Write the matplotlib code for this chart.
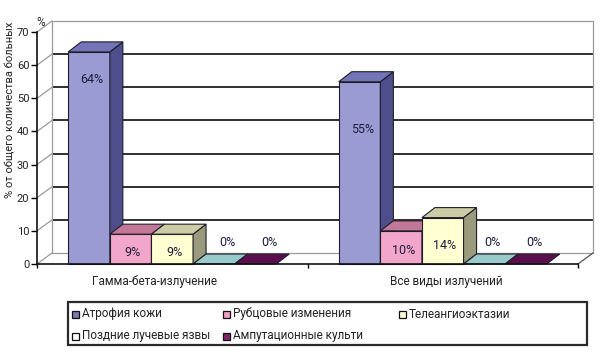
import matplotlib
matplotlib.use("Agg")
import matplotlib.pyplot as plt
from matplotlib.patches import Polygon, Rectangle

plt.rcParams["font.family"] = ["Roboto", "DejaVu Sans"]

# ---------------- data ----------------
categories = ["Гамма-бета-излучение", "Все виды излучений"]
series = ["Атрофия кожи", "Рубцовые изменения", "Телеангиоэктазии",
          "Поздние лучевые язвы", "Ампутационные культи"]
values_gamma = [64, 9, 9, 0, 0]
values_all = [55, 10, 14, 0, 0]
values = [values_gamma, values_all]
y_ticks = [0, 10, 20, 30, 40, 50, 60, 70]
y_label = "% от общего количества больных"

# ---------------- styles / layout ----------------
front_c = ["#9b9bd4", "#f2a6cc", "#ffffd2", "#a8d4d4", "#6a1a5c"]
top_c = ["#7474b8", "#c47898", "#cbcba6", "#98caca", "#5a0f4e"]
side_c = ["#4e4e8c", "#a05a7c", "#9a9a7c", "#6f9c9c", "#3e0a36"]
legend_c = ["#7a7ab0", "#f0a0c6", "#ffffd8", "#ffffff", "#802868"]
edge = "#1e1e2a"
label_drop = [[8.4, 0, 0, 0, 0], [14.5, 0, 0, 0, 0]]   # label offsets for tall bars

FW, FH = 600, 352
fig = plt.figure(figsize=(FW / 100, FH / 100), dpi=100)
L, R, B, T = 37, 578, 264, 32
ax = fig.add_axes([L / FW, 1 - B / FH, (R - L) / FW, (B - T) / FH])
ax.set_xlim(0, 2)
ax.set_ylim(0, 70)

pxx = 2 / (R - L)          # data units per pixel in x
pxy = 70 / (B - T)         # data units per pixel in y
DX, DY = 15 * pxx, 11 * pxy   # wall depth
BX, BY = 13 * pxx, 10 * pxy   # bar depth

# ---------- walls ----------
grey = "#9a9a9a"
for v in y_ticks[1:-1]:
    ax.plot([DX, 2 + DX], [v + DY, v + DY], color="#303030", lw=1.4,
            zorder=1, clip_on=False, solid_capstyle="butt")
for v in y_ticks:
    ax.plot([0, DX], [v, v + DY], color=grey, lw=0.9, zorder=1, clip_on=False)
ax.plot([DX, 2 + DX, 2 + DX, DX, DX], [DY, DY, 70 + DY, 70 + DY, DY],
        color=grey, lw=0.9, zorder=1, clip_on=False)
ax.plot([2, 2 + DX], [0, DY], color="#606060", lw=1.0, zorder=1, clip_on=False)

# ---------- bars ----------
bw = 41.6 * pxx
z = 2
for i, vals in enumerate(values):
    for j, h in enumerate(vals):
        x0 = i + 0.5 + (j - 2.5) * bw
        x1 = x0 + bw
        if h > 0:
            ax.add_patch(Rectangle((x0, 0), bw, h, facecolor=front_c[j],
                                   edgecolor=edge, lw=0.8, zorder=z, clip_on=False))
            ax.add_patch(Polygon([(x1, 0), (x1 + BX, BY), (x1 + BX, h + BY), (x1, h)],
                                 closed=True, facecolor=side_c[j], edgecolor=edge,
                                 lw=0.8, zorder=z, clip_on=False))
        ax.add_patch(Polygon([(x0, h), (x1, h), (x1 + BX, h + BY), (x0 + BX, h + BY)],
                             closed=True, facecolor=top_c[j], edgecolor=edge,
                             lw=0.8, zorder=z, clip_on=False))
        z += 1
        if h >= 30:
            lx, ly = x0 + bw / 2 + 3 * pxx, h - label_drop[i][j]
        elif h > 0:
            lx, ly = x0 + bw / 2 + 2 * pxx, h * 0.4
        else:
            lx, ly = x0 + bw / 2 + (14 - 6 * i) * pxx, 6.6
        ax.text(lx, ly, f"{h}%", ha="center", va="center", fontsize=9,
                color="#1c1c3c", zorder=50, clip_on=False)

# ---------- axes ----------
for s in ["top", "right"]:
    ax.spines[s].set_visible(False)
for s in ["left", "bottom"]:
    ax.spines[s].set_linewidth(1.2)
    ax.spines[s].set_color("#111111")
    ax.spines[s].set_zorder(40)
ax.set_yticks(y_ticks)
ax.set_yticklabels([str(v) for v in y_ticks], fontsize=8, color="#222222")
ax.tick_params(axis="y", direction="out", length=4, width=1, pad=1.5)
ax.set_xticks([0, 1, 2])
ax.set_xticklabels([])
ax.tick_params(axis="x", direction="out", length=3, width=1)
cat_offsets = [-18 * pxx, 4 * pxx]
for i, c in enumerate(categories):
    ax.text(i + 0.5 + cat_offsets[i], -3.2, c, ha="center", va="top",
            fontsize=8.5, color="#222222", clip_on=False)
ax.set_facecolor("none")

fig.text(10.5 / FW, 1 - 110 / FH, y_label, rotation=90, ha="center", va="center",
         fontsize=8, color="#222222")
fig.text(41 / FW, 1 - 22 / FH, "%", ha="center", va="center", fontsize=8.5,
         color="#222222")

# ---------- legend ----------
def fx(p):
    return p / FW


def fy(p):
    return 1 - p / FH


fig.patches.append(Rectangle((fx(68), fy(345)), (587 - 68) / FW, (345 - 302) / FH,
                             transform=fig.transFigure, facecolor="white",
                             edgecolor="#2a2a2a", lw=1.6))
leg_pos = [(75, 314), (226, 314), (402, 314), (75, 336), (226, 336)]
sw = 7
for (x, y), name, col in zip(leg_pos, series, legend_c):
    fig.patches.append(Rectangle((fx(x - sw / 2), fy(y + sw / 2)), sw / FW, sw / FH,
                                 transform=fig.transFigure, facecolor=col,
                                 edgecolor="#111111", lw=0.9))
    fig.text(fx(x + 7), fy(y), name, ha="left", va="center", fontsize=8.5,
             color="#222222")

fig.savefig("out.png", dpi=100)
